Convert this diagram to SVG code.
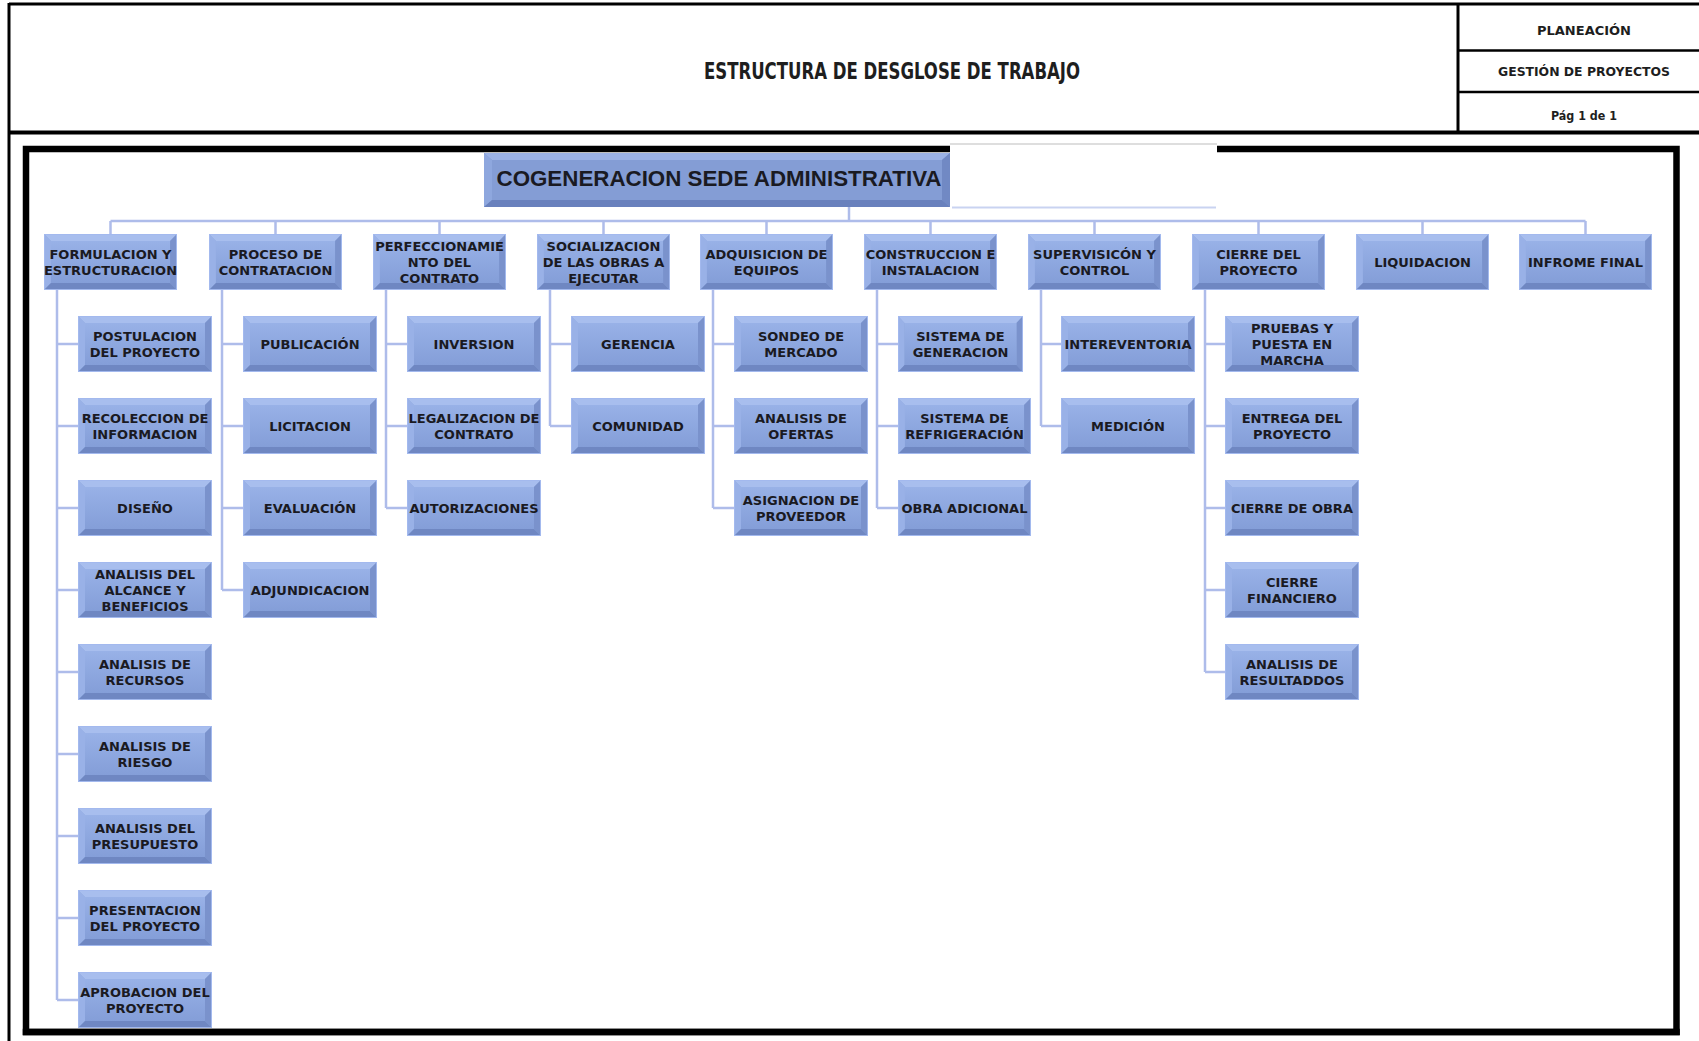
<svg xmlns="http://www.w3.org/2000/svg" xmlns:xlink="http://www.w3.org/1999/xlink" width="1699" height="1041" viewBox="0 0 1699 1041">
  <style>
    .hd { font-family: "DejaVu Sans Condensed", "DejaVu Sans", sans-serif; fill: #1e1e1e; text-anchor: middle; }
    .t { font-family: "DejaVu Sans", "Liberation Sans", sans-serif; font-weight: bold; font-size: 13px; fill: #1a1a22; text-anchor: middle; }
    .rt { font-family: "Liberation Sans", Arial, sans-serif; font-weight: bold; font-size: 22px; fill: #1a1a22; text-anchor: middle; }
    .ln { stroke: #AEBCEA; stroke-width: 2.5; fill: none; }
    .blk { stroke: #000; fill: none; }
  </style>
  <defs>
    <linearGradient id="face" x1="0" y1="0" x2="0" y2="1">
      <stop offset="0" stop-color="#98B1E7"/>
      <stop offset="1" stop-color="#849ED8"/>
    </linearGradient>
    <!-- bevelled SmartArt-style box, stretched to each node's size -->
    <symbol id="bx" viewBox="0 0 134 56" preserveAspectRatio="none">
      <rect x="0" y="0" width="134" height="56" fill="#8DA6DC"/>
      <polygon points="0,0 134,0 127,7 7,7" fill="#A8BEEE"/>
      <polygon points="0,0 7,7 7,49 0,56" fill="#99B1E7"/>
      <polygon points="134,0 134,56 127,49 127,7" fill="#7A92CC"/>
      <polygon points="0,56 134,56 127,49 7,49" fill="#6F87C2"/>
      <rect x="7" y="7" width="120" height="42" fill="url(#face)"/>
      <rect x="0.5" y="0.5" width="133" height="55" fill="none" stroke="#A3B9EE" stroke-width="1"/>
    </symbol>
  </defs>

  <rect x="0" y="0" width="1699" height="1041" fill="#fff"/>

  <!-- title block -->
  <g id="header">
    <line class="blk" x1="9" y1="4" x2="1699" y2="4" stroke-width="3"/>
    <line class="blk" x1="9" y1="3" x2="9" y2="1041" stroke-width="3"/>
    <line class="blk" x1="9" y1="132.5" x2="1699" y2="132.5" stroke-width="4"/>
    <line class="blk" x1="1458" y1="4" x2="1458" y2="133" stroke-width="3"/>
    <line class="blk" x1="1458" y1="50.5" x2="1699" y2="50.5" stroke-width="2.5"/>
    <line class="blk" x1="1458" y1="92" x2="1699" y2="92" stroke-width="2.5"/>
    <text class="hd" x="892" y="79" font-size="23" font-weight="bold" textLength="376" lengthAdjust="spacingAndGlyphs">ESTRUCTURA DE DESGLOSE DE TRABAJO</text>
    <text class="hd" x="1584" y="35" font-size="13" font-weight="bold" textLength="94" lengthAdjust="spacingAndGlyphs">PLANEACIÓN</text>
    <text class="hd" x="1584" y="76" font-size="13" font-weight="bold" textLength="172" lengthAdjust="spacingAndGlyphs">GESTIÓN DE PROYECTOS</text>
    <text class="hd" x="1584" y="120" font-size="13" font-weight="bold" textLength="66" lengthAdjust="spacingAndGlyphs">Pág 1 de 1</text>
  </g>

  <!-- chart frame -->
  <rect class="blk" x="26" y="149" width="1650.5" height="883" stroke-width="6.5"/>
  <rect x="950" y="143" width="267" height="64" fill="#fff"/>
  <line x1="950" y1="144" x2="1217" y2="144" stroke="#BDBDBD" stroke-width="1"/>
  <line x1="952" y1="207.5" x2="1216" y2="207.5" stroke="#C9D3F1" stroke-width="2"/>

  <!-- connectors -->
  <g id="connectors" class="ln">
    <line x1="849" y1="207" x2="849" y2="221"/>
    <line x1="110.5" y1="221" x2="1585.5" y2="221"/>
    <path d="M110.5,221V234 M275.5,221V234 M439.5,221V234 M603.5,221V234 M766.5,221V234 M930.5,221V234 M1094.5,221V234 M1258.5,221V234 M1422.5,221V234 M1585.5,221V234"/>
    <!-- FORMULACION -->
    <path d="M57,290V1000 M57,344H78 M57,426H78 M57,508H78 M57,590H78 M57,672H78 M57,754H78 M57,836H78 M57,918H78 M57,1000H78"/>
    <!-- PROCESO DE CONTRATACION -->
    <path d="M222,290V590 M222,344H243 M222,426H243 M222,508H243 M222,590H243"/>
    <!-- PERFECCIONAMIENTO -->
    <path d="M386,290V508 M386,344H407 M386,426H407 M386,508H407"/>
    <!-- SOCIALIZACION -->
    <path d="M550,290V426 M550,344H571 M550,426H571"/>
    <!-- ADQUISICION -->
    <path d="M713,290V508 M713,344H734 M713,426H734 M713,508H734"/>
    <!-- CONSTRUCCION -->
    <path d="M877,290V508 M877,344H898 M877,426H898 M877,508H898"/>
    <!-- SUPERVISION -->
    <path d="M1041,290V426 M1041,344H1061 M1041,426H1061"/>
    <!-- CIERRE DEL PROYECTO -->
    <path d="M1205,290V672 M1205,344H1225 M1205,426H1225 M1205,508H1225 M1205,590H1225 M1205,672H1225"/>
  </g>

  <!-- root -->
  <g id="n-root">
    <rect x="484" y="153" width="466" height="54" fill="#819AD2"/>
    <polygon points="484,153 950,153 942,160 492,160" fill="#9BB2E6"/>
    <polygon points="484,153 492,160 492,200 484,207" fill="#8EA7DE"/>
    <polygon points="950,153 950,207 942,200 942,160" fill="#7189C4"/>
    <polygon points="484,207 950,207 942,200 492,200" fill="#6981BD"/>
    <rect x="492" y="160" width="450" height="40" fill="#849DD5"/>
    <text class="rt" x="719" y="186" textLength="445" lengthAdjust="spacingAndGlyphs">COGENERACION SEDE ADMINISTRATIVA</text>
  </g>

  <!-- level 1 -->
  <g id="n-formulacion"><use xlink:href="#bx" x="44" y="234" width="133" height="56"/><text class="t" x="110.5" y="258.7">FORMULACION Y</text><text class="t" x="110.5" y="274.7">ESTRUCTURACION</text></g>
  <g id="n-proceso"><use xlink:href="#bx" x="209" y="234" width="133" height="56"/><text class="t" x="275.5" y="258.7">PROCESO DE</text><text class="t" x="275.5" y="274.7">CONTRATACION</text></g>
  <g id="n-perfeccionamiento"><use xlink:href="#bx" x="373" y="234" width="133" height="56"/><text class="t" x="439.5" y="250.7">PERFECCIONAMIE</text><text class="t" x="439.5" y="266.7">NTO DEL</text><text class="t" x="439.5" y="282.7">CONTRATO</text></g>
  <g id="n-socializacion"><use xlink:href="#bx" x="537" y="234" width="133" height="56"/><text class="t" x="603.5" y="250.7">SOCIALIZACION</text><text class="t" x="603.5" y="266.7">DE LAS OBRAS A</text><text class="t" x="603.5" y="282.7">EJECUTAR</text></g>
  <g id="n-adquisicion"><use xlink:href="#bx" x="700" y="234" width="133" height="56"/><text class="t" x="766.5" y="258.7">ADQUISICION DE</text><text class="t" x="766.5" y="274.7">EQUIPOS</text></g>
  <g id="n-construccion"><use xlink:href="#bx" x="864" y="234" width="133" height="56"/><text class="t" x="930.5" y="258.7">CONSTRUCCION E</text><text class="t" x="930.5" y="274.7">INSTALACION</text></g>
  <g id="n-supervision"><use xlink:href="#bx" x="1028" y="234" width="133" height="56"/><text class="t" x="1094.5" y="258.7">SUPERVISICÓN Y</text><text class="t" x="1094.5" y="274.7">CONTROL</text></g>
  <g id="n-cierre"><use xlink:href="#bx" x="1192" y="234" width="133" height="56"/><text class="t" x="1258.5" y="258.7">CIERRE DEL</text><text class="t" x="1258.5" y="274.7">PROYECTO</text></g>
  <g id="n-liquidacion"><use xlink:href="#bx" x="1356" y="234" width="133" height="56"/><text class="t" x="1422.5" y="266.7">LIQUIDACION</text></g>
  <g id="n-informe"><use xlink:href="#bx" x="1519" y="234" width="133" height="56"/><text class="t" x="1585.5" y="266.7">INFROME FINAL</text></g>

  <!-- FORMULACION children -->
  <g id="n-postulacion"><use xlink:href="#bx" x="78" y="316" width="134" height="56"/><text class="t" x="145" y="340.7">POSTULACION</text><text class="t" x="145" y="356.7">DEL PROYECTO</text></g>
  <g id="n-recoleccion"><use xlink:href="#bx" x="78" y="398" width="134" height="56"/><text class="t" x="145" y="422.7">RECOLECCION DE</text><text class="t" x="145" y="438.7">INFORMACION</text></g>
  <g id="n-diseno"><use xlink:href="#bx" x="78" y="480" width="134" height="56"/><text class="t" x="145" y="512.7">DISEÑO</text></g>
  <g id="n-alcance"><use xlink:href="#bx" x="78" y="562" width="134" height="56"/><text class="t" x="145" y="578.7">ANALISIS DEL</text><text class="t" x="145" y="594.7">ALCANCE Y</text><text class="t" x="145" y="610.7">BENEFICIOS</text></g>
  <g id="n-recursos"><use xlink:href="#bx" x="78" y="644" width="134" height="56"/><text class="t" x="145" y="668.7">ANALISIS DE</text><text class="t" x="145" y="684.7">RECURSOS</text></g>
  <g id="n-riesgo"><use xlink:href="#bx" x="78" y="726" width="134" height="56"/><text class="t" x="145" y="750.7">ANALISIS DE</text><text class="t" x="145" y="766.7">RIESGO</text></g>
  <g id="n-presupuesto"><use xlink:href="#bx" x="78" y="808" width="134" height="56"/><text class="t" x="145" y="832.7">ANALISIS DEL</text><text class="t" x="145" y="848.7">PRESUPUESTO</text></g>
  <g id="n-presentacion"><use xlink:href="#bx" x="78" y="890" width="134" height="56"/><text class="t" x="145" y="914.7">PRESENTACION</text><text class="t" x="145" y="930.7">DEL PROYECTO</text></g>
  <g id="n-aprobacion"><use xlink:href="#bx" x="78" y="972" width="134" height="56"/><text class="t" x="145" y="996.7">APROBACION DEL</text><text class="t" x="145" y="1012.7">PROYECTO</text></g>

  <!-- PROCESO DE CONTRATACION children -->
  <g id="n-publicacion"><use xlink:href="#bx" x="243" y="316" width="134" height="56"/><text class="t" x="310" y="348.7">PUBLICACIÓN</text></g>
  <g id="n-licitacion"><use xlink:href="#bx" x="243" y="398" width="134" height="56"/><text class="t" x="310" y="430.7">LICITACION</text></g>
  <g id="n-evaluacion"><use xlink:href="#bx" x="243" y="480" width="134" height="56"/><text class="t" x="310" y="512.7">EVALUACIÓN</text></g>
  <g id="n-adjundicacion"><use xlink:href="#bx" x="243" y="562" width="134" height="56"/><text class="t" x="310" y="594.7">ADJUNDICACION</text></g>

  <!-- PERFECCIONAMIENTO children -->
  <g id="n-inversion"><use xlink:href="#bx" x="407" y="316" width="134" height="56"/><text class="t" x="474" y="348.7">INVERSION</text></g>
  <g id="n-legalizacion"><use xlink:href="#bx" x="407" y="398" width="134" height="56"/><text class="t" x="474" y="422.7">LEGALIZACION DE</text><text class="t" x="474" y="438.7">CONTRATO</text></g>
  <g id="n-autorizaciones"><use xlink:href="#bx" x="407" y="480" width="134" height="56"/><text class="t" x="474" y="512.7">AUTORIZACIONES</text></g>

  <!-- SOCIALIZACION children -->
  <g id="n-gerencia"><use xlink:href="#bx" x="571" y="316" width="134" height="56"/><text class="t" x="638" y="348.7">GERENCIA</text></g>
  <g id="n-comunidad"><use xlink:href="#bx" x="571" y="398" width="134" height="56"/><text class="t" x="638" y="430.7">COMUNIDAD</text></g>

  <!-- ADQUISICION children -->
  <g id="n-sondeo"><use xlink:href="#bx" x="734" y="316" width="134" height="56"/><text class="t" x="801" y="340.7">SONDEO DE</text><text class="t" x="801" y="356.7">MERCADO</text></g>
  <g id="n-ofertas"><use xlink:href="#bx" x="734" y="398" width="134" height="56"/><text class="t" x="801" y="422.7">ANALISIS DE</text><text class="t" x="801" y="438.7">OFERTAS</text></g>
  <g id="n-asignacion"><use xlink:href="#bx" x="734" y="480" width="134" height="56"/><text class="t" x="801" y="504.7">ASIGNACION DE</text><text class="t" x="801" y="520.7">PROVEEDOR</text></g>

  <!-- CONSTRUCCION children -->
  <g id="n-generacion"><use xlink:href="#bx" x="898" y="316" width="125" height="56"/><text class="t" x="960.5" y="340.7">SISTEMA  DE</text><text class="t" x="960.5" y="356.7">GENERACION</text></g>
  <g id="n-refrigeracion"><use xlink:href="#bx" x="898" y="398" width="133" height="56"/><text class="t" x="964.5" y="422.7">SISTEMA  DE</text><text class="t" x="964.5" y="438.7">REFRIGERACIÓN</text></g>
  <g id="n-obra-adicional"><use xlink:href="#bx" x="898" y="480" width="133" height="56"/><text class="t" x="964.5" y="512.7">OBRA ADICIONAL</text></g>

  <!-- SUPERVISION children -->
  <g id="n-intereventoria"><use xlink:href="#bx" x="1061" y="316" width="134" height="56"/><text class="t" x="1128" y="348.7">INTEREVENTORIA</text></g>
  <g id="n-medicion"><use xlink:href="#bx" x="1061" y="398" width="134" height="56"/><text class="t" x="1128" y="430.7">MEDICIÓN</text></g>

  <!-- CIERRE DEL PROYECTO children -->
  <g id="n-pruebas"><use xlink:href="#bx" x="1225" y="316" width="134" height="56"/><text class="t" x="1292" y="332.7">PRUEBAS Y</text><text class="t" x="1292" y="348.7">PUESTA EN</text><text class="t" x="1292" y="364.7">MARCHA</text></g>
  <g id="n-entrega"><use xlink:href="#bx" x="1225" y="398" width="134" height="56"/><text class="t" x="1292" y="422.7">ENTREGA DEL</text><text class="t" x="1292" y="438.7">PROYECTO</text></g>
  <g id="n-cierre-obra"><use xlink:href="#bx" x="1225" y="480" width="134" height="56"/><text class="t" x="1292" y="512.7">CIERRE DE OBRA</text></g>
  <g id="n-cierre-financiero"><use xlink:href="#bx" x="1225" y="562" width="134" height="56"/><text class="t" x="1292" y="586.7">CIERRE</text><text class="t" x="1292" y="602.7">FINANCIERO</text></g>
  <g id="n-resultados"><use xlink:href="#bx" x="1225" y="644" width="134" height="56"/><text class="t" x="1292" y="668.7">ANALISIS DE</text><text class="t" x="1292" y="684.7">RESULTADDOS</text></g>

  <!-- frame bottom edge drawn over the last box -->
  <line class="blk" x1="22.75" y1="1032" x2="1679.75" y2="1032" stroke-width="6.5"/>
</svg>
